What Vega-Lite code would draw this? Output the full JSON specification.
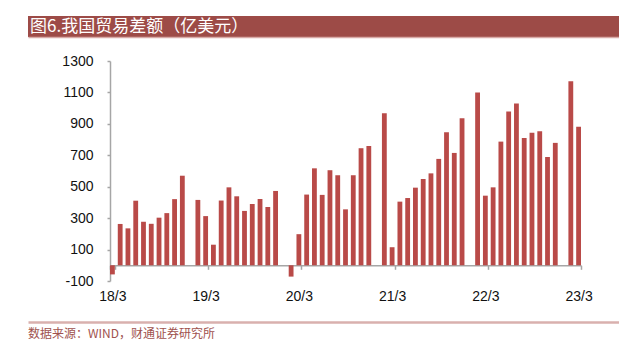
{
  "$schema": "https://vega.github.io/schema/vega-lite/v6.json",
  "padding": {"left": 28, "top": 16, "right": 0, "bottom": 0},
  "background": "white",
  "bounds": "flush",
  "spacing": 0,
  "config": {"view": {"stroke": null}, "axis": {"grid": false}},
  "vconcat": [
    {
      "width": 591,
      "height": 21,
      "view": {"fill": "#9d4b47", "stroke": null},
      "data": {"values": [{"t": "图6.我国贸易差额（亿美元）"}]},
      "mark": {"type": "text", "align": "left", "baseline": "middle", "dx": 2, "color": "white", "font": "Noto Sans CJK SC", "fontSize": 17, "fontWeight": "normal"},
      "encoding": {
        "x": {"field": "t", "type": "nominal", "bandPosition": 0, "scale": {"type": "band", "paddingInner": 0, "paddingOuter": 0},
              "axis": {"orient": "bottom", "labels": false, "ticks": false, "title": null, "domainColor": "#d8aaa7", "domainWidth": 1.5}},
        "text": {"field": "t"}
      }
    },
    {
      "width": 591,
      "height": 285,
      "data": {"values": [
        {"m": "18/3", "v": -58}, {"m": "18/4", "v": 263}, {"m": "18/5", "v": 235}, {"m": "18/6", "v": 411}, {"m": "18/7", "v": 277},
        {"m": "18/8", "v": 264}, {"m": "18/9", "v": 303}, {"m": "18/10", "v": 332}, {"m": "18/11", "v": 421}, {"m": "18/12", "v": 570},
        {"m": "19/1", "v": null}, {"m": "19/2", "v": 416}, {"m": "19/3", "v": 313}, {"m": "19/4", "v": 131}, {"m": "19/5", "v": 412},
        {"m": "19/6", "v": 496}, {"m": "19/7", "v": 439}, {"m": "19/8", "v": 346}, {"m": "19/9", "v": 390}, {"m": "19/10", "v": 422},
        {"m": "19/11", "v": 371}, {"m": "19/12", "v": 473},
        {"m": "20/1", "v": null}, {"m": "20/2", "v": -72}, {"m": "20/3", "v": 198}, {"m": "20/4", "v": 450}, {"m": "20/5", "v": 617},
        {"m": "20/6", "v": 448}, {"m": "20/7", "v": 605}, {"m": "20/8", "v": 573}, {"m": "20/9", "v": 356}, {"m": "20/10", "v": 573},
        {"m": "20/11", "v": 745}, {"m": "20/12", "v": 759},
        {"m": "21/1", "v": null}, {"m": "21/2", "v": 967}, {"m": "21/3", "v": 115}, {"m": "21/4", "v": 405}, {"m": "21/5", "v": 428},
        {"m": "21/6", "v": 494}, {"m": "21/7", "v": 549}, {"m": "21/8", "v": 585}, {"m": "21/9", "v": 677}, {"m": "21/10", "v": 846},
        {"m": "21/11", "v": 715}, {"m": "21/12", "v": 935},
        {"m": "22/1", "v": null}, {"m": "22/2", "v": 1099}, {"m": "22/3", "v": 443}, {"m": "22/4", "v": 496}, {"m": "22/5", "v": 787},
        {"m": "22/6", "v": 978}, {"m": "22/7", "v": 1029}, {"m": "22/8", "v": 810}, {"m": "22/9", "v": 844}, {"m": "22/10", "v": 853},
        {"m": "22/11", "v": 689}, {"m": "22/12", "v": 779},
        {"m": "23/1", "v": null}, {"m": "23/2", "v": 1171}, {"m": "23/3", "v": 882}
      ]},
      "mark": {"type": "bar", "color": "#b94a48"},
      "encoding": {
        "x": {"field": "m", "type": "ordinal", "sort": null,
              "scale": {"domain": ["18/3", "18/4", "18/5", "18/6", "18/7", "18/8", "18/9", "18/10", "18/11", "18/12",
                                   "19/1", "19/2", "19/3", "19/4", "19/5", "19/6", "19/7", "19/8", "19/9", "19/10", "19/11", "19/12",
                                   "20/1", "20/2", "20/3", "20/4", "20/5", "20/6", "20/7", "20/8", "20/9", "20/10", "20/11", "20/12",
                                   "21/1", "21/2", "21/3", "21/4", "21/5", "21/6", "21/7", "21/8", "21/9", "21/10", "21/11", "21/12",
                                   "22/1", "22/2", "22/3", "22/4", "22/5", "22/6", "22/7", "22/8", "22/9", "22/10", "22/11", "22/12",
                                   "23/1", "23/2", "23/3"],
                        "range": [82, 553], "paddingInner": 0.38, "paddingOuter": 0},
              "axis": {"title": null, "values": ["18/3", "19/3", "20/3", "21/3", "22/3", "23/3"], "tickBand": "extent", "offset": -56.7,
                       "domainColor": "#a6a6a6", "domainWidth": 1.5, "tickColor": "#a6a6a6", "tickSize": 4, "tickWidth": 1.5,
                       "labelAngle": 0, "labelFont": "Liberation Sans", "labelFontSize": 14, "labelColor": "#111111", "labelPadding": 20}},
        "y": {"field": "v", "type": "quantitative",
              "scale": {"domain": [-100, 1300], "range": [244, 24], "nice": false},
              "axis": {"title": null, "values": [-100, 100, 300, 500, 700, 900, 1100, 1300], "offset": -82,
                       "labelExpr": "'' + datum.value",
                       "domainColor": "#a6a6a6", "domainWidth": 1.5, "tickColor": "#a6a6a6", "tickSize": 3, "tickWidth": 1.5,
                       "labelPadding": 14, "labelFont": "Liberation Sans", "labelFontSize": 14, "labelColor": "#111111"}}
      }
    },
    {
      "width": 591,
      "height": 24,
      "data": {"values": [{"s": "数据来源：WIND，财通证券研究所"}]},
      "mark": {"type": "text", "align": "left", "baseline": "middle", "color": "#a0524e", "font": "Noto Sans CJK SC", "fontSize": 12},
      "encoding": {
        "x": {"field": "s", "type": "nominal", "bandPosition": 0, "scale": {"type": "band", "paddingInner": 0, "paddingOuter": 0},
              "axis": {"orient": "top", "labels": false, "ticks": false, "title": null, "domainColor": "#d9b0ae", "domainWidth": 2.5}},
        "text": {"field": "s"}
      }
    }
  ]
}
